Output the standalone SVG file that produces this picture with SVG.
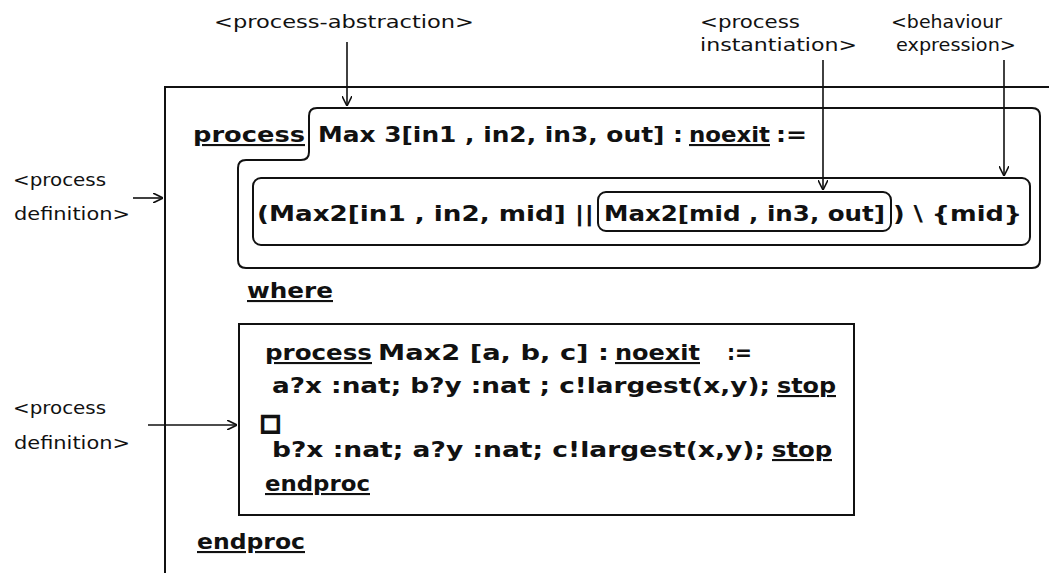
<svg xmlns="http://www.w3.org/2000/svg" width="1049" height="573" viewBox="0 0 1049 573">
<style>
.code{font-family:"DejaVu Sans","Liberation Sans",sans-serif;font-weight:bold;font-size:21px;fill:#111}
.kw{text-decoration:underline}
.sym{font-family:"DejaVu Sans",sans-serif;font-weight:normal;font-size:22px;fill:none;stroke:#111;stroke-width:2.2}
.lbl{font-family:"DejaVu Sans","Liberation Sans",sans-serif;font-size:17px;fill:#111}
.box{fill:none;stroke:#111;stroke-width:2}
.conn{fill:none;stroke:#111;stroke-width:1.6}
</style>
<defs>
<marker id="arr" viewBox="0 0 10 10" refX="10" refY="5" markerWidth="10" markerHeight="10" markerUnits="userSpaceOnUse" orient="auto">
<path d="M0,0 L10,5 L0,10" fill="none" stroke="#111" stroke-width="1.6"/>
</marker>
</defs>
<rect width="1049" height="573" fill="#fff"/>

<g id="outer-process">
<path class="box" d="M165,573 L165,87 L1049,87"/>
<text class="code kw" x="193" y="142" textLength="112" lengthAdjust="spacingAndGlyphs">process</text>
<text class="code kw" x="197" y="549" textLength="108" lengthAdjust="spacingAndGlyphs">endproc</text>
<text class="code kw" x="247" y="298" textLength="86" lengthAdjust="spacingAndGlyphs">where</text>
</g>

<g id="process-abstraction">
<path class="box" d="M309,116 Q309,108 317,108 L1032,108 Q1040,108 1040,116 L1040,260 Q1040,268 1032,268 L246,268 Q238,268 238,260 L238,168 Q238,160 246,160 L301,160 Q309,160 309,152 Z"/>
<text class="code" x="318" y="142" textLength="365" lengthAdjust="spacingAndGlyphs">Max 3[in1 , in2, in3, out] :</text>
<text class="code kw" x="689" y="142" textLength="81" lengthAdjust="spacingAndGlyphs">noexit</text>
<text class="code" x="776" y="142" textLength="31" lengthAdjust="spacingAndGlyphs">:=</text>
</g>

<g id="behaviour-expression">
<rect class="box" x="253" y="178" width="777" height="67" rx="8"/>
<text class="code" x="257" y="221" textLength="337" lengthAdjust="spacingAndGlyphs">(Max2[in1 , in2, mid] ||</text>
<text class="code" x="893" y="221" textLength="129" lengthAdjust="spacingAndGlyphs">) \ {mid}</text>
</g>

<g id="process-instantiation">
<rect class="box" x="598" y="192" width="293" height="39" rx="8"/>
<text class="code" x="604" y="221" textLength="281" lengthAdjust="spacingAndGlyphs">Max2[mid , in3, out]</text>
</g>

<g id="max2-definition">
<rect class="box" x="239" y="324" width="615" height="191"/>
<text class="code kw" x="265" y="360" textLength="107" lengthAdjust="spacingAndGlyphs">process</text>
<text class="code" x="378" y="360" textLength="231" lengthAdjust="spacingAndGlyphs">Max2 [a, b, c] :</text>
<text class="code kw" x="615" y="360" textLength="85" lengthAdjust="spacingAndGlyphs">noexit</text>
<text class="code" x="727" y="360" textLength="25" lengthAdjust="spacingAndGlyphs">:=</text>
<text class="code" x="272" y="393" textLength="498" lengthAdjust="spacingAndGlyphs">a?x :nat; b?y :nat ; c!largest(x,y);</text>
<text class="code kw" x="777" y="393" textLength="59" lengthAdjust="spacingAndGlyphs">stop</text>
<text class="sym" x="260" y="430">□</text>
<text class="code" x="272" y="457" textLength="493" lengthAdjust="spacingAndGlyphs">b?x :nat; a?y :nat; c!largest(x,y);</text>
<text class="code kw" x="772" y="457" textLength="60" lengthAdjust="spacingAndGlyphs">stop</text>
<text class="code kw" x="265" y="491" textLength="105" lengthAdjust="spacingAndGlyphs">endproc</text>
</g>

<g id="labels">
<text class="lbl" x="214" y="28" textLength="260" lengthAdjust="spacingAndGlyphs">&lt;process-abstraction&gt;</text>
<text class="lbl" x="700" y="28" textLength="100" lengthAdjust="spacingAndGlyphs">&lt;process</text>
<text class="lbl" x="700" y="51" textLength="157" lengthAdjust="spacingAndGlyphs">instantiation&gt;</text>
<text class="lbl" x="891" y="28" textLength="111" lengthAdjust="spacingAndGlyphs">&lt;behaviour</text>
<text class="lbl" x="896" y="51" textLength="120" lengthAdjust="spacingAndGlyphs">expression&gt;</text>
<text class="lbl" x="13" y="186" textLength="93" lengthAdjust="spacingAndGlyphs">&lt;process</text>
<text class="lbl" x="14" y="220" textLength="116" lengthAdjust="spacingAndGlyphs">definition&gt;</text>
<text class="lbl" x="13" y="414" textLength="93" lengthAdjust="spacingAndGlyphs">&lt;process</text>
<text class="lbl" x="14" y="449" textLength="116" lengthAdjust="spacingAndGlyphs">definition&gt;</text>
</g>

<g id="connectors">
<line class="conn" x1="347" y1="42" x2="347" y2="106" marker-end="url(#arr)"/>
<line class="conn" x1="823" y1="60" x2="823" y2="190" marker-end="url(#arr)"/>
<line class="conn" x1="1004" y1="60" x2="1004" y2="176" marker-end="url(#arr)"/>
<line class="conn" x1="133" y1="198" x2="163" y2="198" marker-end="url(#arr)"/>
<line class="conn" x1="148" y1="425" x2="237" y2="425" marker-end="url(#arr)"/>
</g>
</svg>
